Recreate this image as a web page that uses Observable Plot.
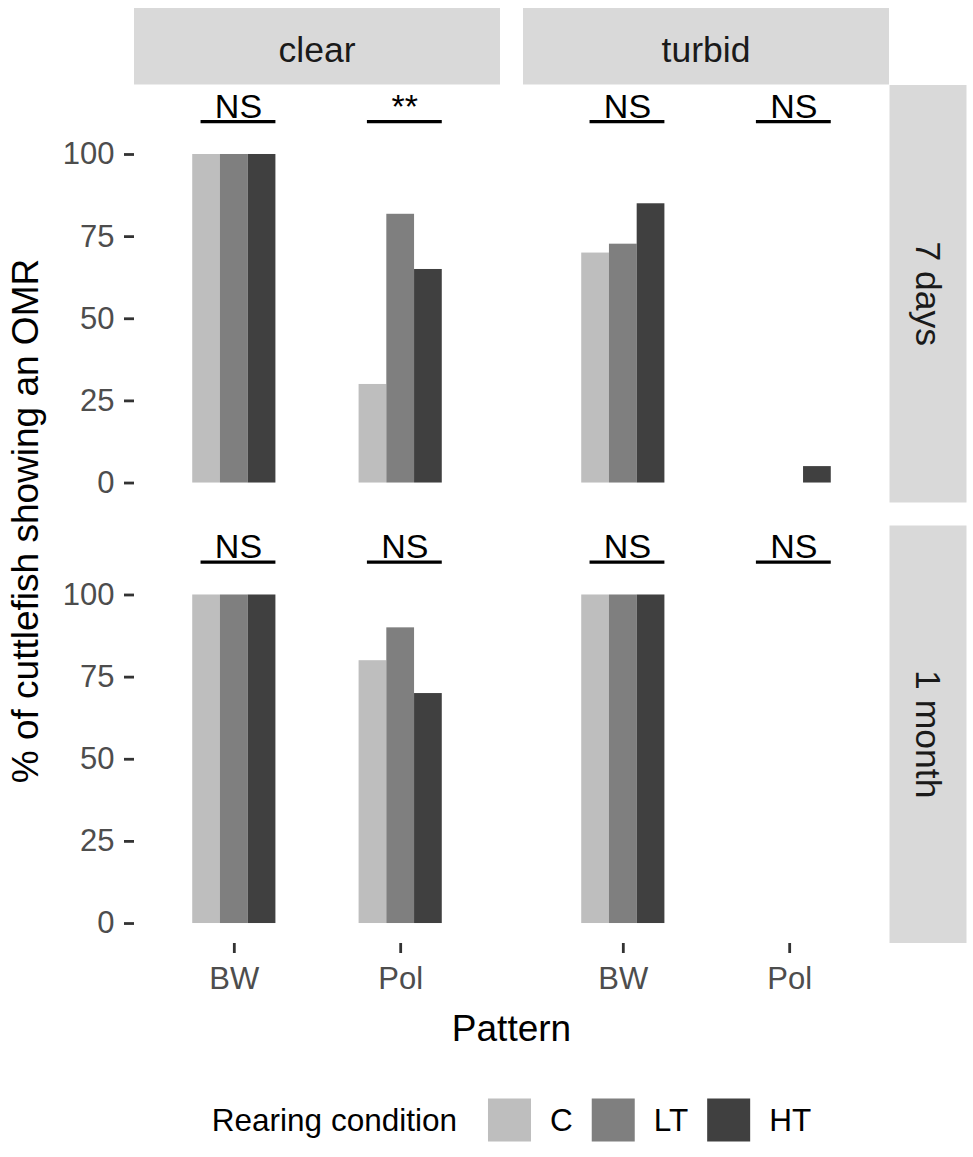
<!DOCTYPE html>
<html>
<head>
<meta charset="utf-8">
<script src="https://cdn.jsdelivr.net/npm/d3@7"></script>
<script src="https://cdn.jsdelivr.net/npm/@observablehq/plot@0.6"></script>
<style>
  html, body { margin: 0; padding: 0; background: #fff; }
  #chart svg { display: block; }
</style>
</head>
<body>
<div id="chart"></div>
<script>
// ---- data ----
const timepoints = ["7 days", "1 month"];
const waters = ["clear", "turbid"];
const patterns = ["BW", "Pol"];
const conditions = ["C", "LT", "HT"];
// order of groups: 7 days clear BW, 7 days clear Pol, 7 days turbid BW, 7 days turbid Pol,
//                  1 month clear BW, 1 month clear Pol, 1 month turbid BW, 1 month turbid Pol
const valuesC  = [100, 30,   70,   0, 100, 80, 100, 0];
const valuesLT = [100, 81.8, 72.7, 0, 100, 90, 100, 0];
const valuesHT = [100, 65,   85,   5, 100, 70, 100, 0];
const significance = ["NS", "**", "NS", "NS", "NS", "NS", "NS", "NS"];
const yTicks = [0, 25, 50, 75, 100];
const conditionColors = ["#BEBEBE", "#7F7F7F", "#404040"];

// ---- tables built from the arrays ----
const groups = [];
timepoints.forEach(t => waters.forEach(w => patterns.forEach(p => groups.push({time: t, water: w, pattern: p}))));
const seriesValues = [valuesC, valuesLT, valuesHT];
const bars = [];
groups.forEach((g, gi) => conditions.forEach((c, ci) =>
  bars.push({...g, cond: c, ci, value: seriesValues[ci][gi]})));
const annots = groups.map((g, gi) => ({...g, label: significance[gi]}));

const groupWidth = 0.5, barWidth = groupWidth / conditions.length;
const pos = d => patterns.indexOf(d.pattern) + 1;
const sigLevel = 110;

const font = "'Liberation Sans', Arial, Helvetica, sans-serif";
const W = 973, H = 1157;

const plot = Plot.plot({
  width: W, height: H,
  marginTop: 85, marginBottom: 214, marginLeft: 134, marginRight: 84,
  style: {fontFamily: font, background: "#fff", overflow: "visible"},
  fx: {domain: waters, axis: null, paddingInner: 0.0591, paddingOuter: 0, round: false},
  fy: {domain: timepoints, axis: null, paddingInner: 0.0522, paddingOuter: 0, round: false},
  x: {domain: [0.4, 2.6]},
  y: {domain: [-6.08, 121]},
  color: {domain: conditions, range: conditionColors},
  marks: [
    Plot.rect(bars, {
      fx: "water", fy: "time",
      x1: d => pos(d) - groupWidth / 2 + d.ci * barWidth,
      x2: d => pos(d) - groupWidth / 2 + (d.ci + 1) * barWidth,
      y1: () => 0, y2: "value", fill: "cond"
    }),
    Plot.ruleY(annots, {
      fx: "water", fy: "time", y: () => sigLevel,
      x1: d => pos(d) - 0.2, x2: d => pos(d) + 0.25,
      stroke: "#000", strokeWidth: 3.3
    }),
    Plot.text(annots, {
      fx: "water", fy: "time", x: d => pos(d) + 0.025, y: () => sigLevel,
      text: "label", lineAnchor: "bottom", dy: -4, fontSize: 34, fill: "#000"
    }),
    Plot.axisY({ticks: yTicks, tickSize: 10, tickPadding: 10, fontSize: 31,
      fill: "#4D4D4D", stroke: "#333333", strokeWidth: 2.8, label: null}),
    Plot.axisX({ticks: [1, 2], tickFormat: d => patterns[d - 1], tickSize: 10, tickPadding: 13,
      fontSize: 31, fill: "#4D4D4D", stroke: "#333333", strokeWidth: 2.8, label: null})
  ]
});

document.getElementById("chart").appendChild(plot);

// ---- facet strips, axis titles and legend, placed with the plot's own scales ----
const svg = d3.select(plot);
const fx = plot.scale("fx"), fy = plot.scale("fy"), color = plot.scale("color");
const xr = fx.range, yr = fy.range;
const strips = svg.append("g").attr("font-family", font);

waters.forEach(w => {
  const x0 = fx.apply(w);
  strips.append("rect").attr("x", x0).attr("y", 8)
    .attr("width", fx.bandwidth).attr("height", yr[0] - 8 - 0.5).attr("fill", "#D9D9D9");
  strips.append("text").attr("x", x0 + fx.bandwidth / 2).attr("y", 62)
    .attr("text-anchor", "middle").attr("font-size", 35.5).attr("fill", "#1A1A1A").text(w);
});
timepoints.forEach(t => {
  const y0 = fy.apply(t);
  const x0 = xr[1] + 0.5;
  strips.append("rect").attr("x", x0).attr("y", y0)
    .attr("width", 77).attr("height", fy.bandwidth).attr("fill", "#D9D9D9");
  strips.append("text")
    .attr("transform", `translate(${x0 + 38.5},${y0 + fy.bandwidth / 2}) rotate(90)`)
    .attr("text-anchor", "middle").attr("dy", "0.35em")
    .attr("font-size", 35.5).attr("fill", "#1A1A1A").text(t);
});

const titles = svg.append("g").attr("font-family", font).attr("fill", "#000");
titles.append("text").attr("x", (xr[0] + xr[1]) / 2).attr("y", 1028).attr("dy", "0.35em")
  .attr("text-anchor", "middle").attr("font-size", 37).text("Pattern");
titles.append("text")
  .attr("transform", `translate(25,${(yr[0] + yr[1]) / 2 + 7}) rotate(-90)`)
  .attr("dy", "0.35em").attr("text-anchor", "middle").attr("font-size", 37)
  .text("% of cuttlefish showing an OMR");

// legend
const legendY = 1120, sw = 43;
const lg = svg.append("g").attr("font-family", font).attr("fill", "#000").attr("text-anchor", "start");
const ttl = lg.append("text").attr("x", 0).attr("y", legendY).attr("dy", "0.35em")
  .attr("font-size", 31.5).attr("text-anchor", "start").text("Rearing condition");
let cursor = ttl.node().getComputedTextLength() + 31;
color.domain.forEach((c, i) => {
  lg.append("rect").attr("x", cursor).attr("y", legendY - sw / 2)
    .attr("width", sw).attr("height", sw).attr("fill", color.range[i]);
  cursor += sw + 19;
  const t = lg.append("text").attr("x", cursor).attr("y", legendY).attr("dy", "0.35em")
    .attr("font-size", 31.5).attr("text-anchor", "start").text(c);
  cursor += t.node().getComputedTextLength() + (i < color.domain.length - 1 ? 19 : 0);
});
lg.attr("transform", `translate(${(xr[0] + xr[1]) / 2 - cursor / 2},0)`);
</script>
</body>
</html>
